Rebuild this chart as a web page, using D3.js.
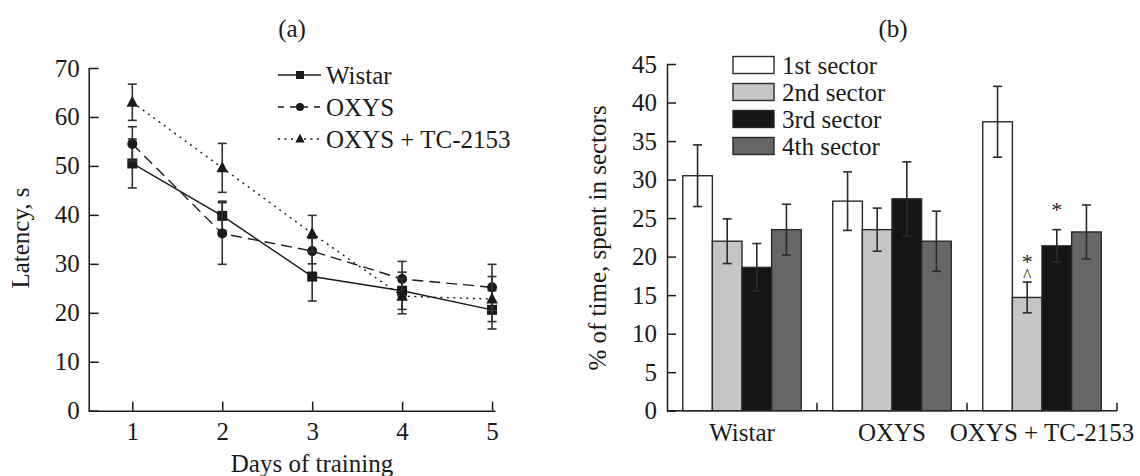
<!DOCTYPE html>
<html>
<head>
<meta charset="utf-8">
<script src="https://cdn.jsdelivr.net/npm/d3@7"></script>
<style>
  body { margin: 0; background: #fff; }
  svg text { font-family: "Liberation Serif", "Times New Roman", Times, "DejaVu Serif", "Noto Serif", serif; fill: #1a1a1a; }
</style>
</head>
<body>
<script>
// panel (a): latency by day
var days = [1, 2, 3, 4, 5];
var wistar = [50.5, 39.8, 27.4, 24.5, 20.6];
var wistarErr = [5, 3, 5, 3.8, 3.9];
var oxys = [54.5, 36.2, 32.6, 26.9, 25.2];
var oxysErr = [3.5, 6.3, 2.6, 3.6, 4.7];
var oxysTc = [63, 49.6, 36.2, 23.4, 22.8];
var oxysTcErr = [3.7, 5, 3.7, 3.6, 4.6];
var latencyTicks = [0, 10, 20, 30, 40, 50, 60, 70];

// panel (b): % of time in sectors
var groups = ["Wistar", "OXYS", "OXYS + TC-2153"];
var sectors = ["1st sector", "2nd sector", "3rd sector", "4th sector"];
var sector1 = [30.5, 27.2, 37.5];
var sector1Err = [4, 3.8, 4.6];
var sector2 = [22.0, 23.5, 14.7];
var sector2Err = [2.9, 2.8, 2.0];
var sector3 = [18.6, 27.5, 21.4];
var sector3Err = [3.1, 4.8, 2.1];
var sector4 = [23.5, 22.0, 23.2];
var sector4Err = [3.3, 3.9, 3.5];
var percentTicks = [0, 5, 10, 15, 20, 25, 30, 35, 40, 45];
// significance marks above error bars
var marks = [
  { group: 2, sector: 1, symbols: ["^", "*"] },
  { group: 2, sector: 2, symbols: ["*"] }
];

var ink = "#1a1a1a";
var fs = 25;
var serif = '"Liberation Serif", "Times New Roman", Times, "DejaVu Serif", serif';

var svg = d3.select("body").append("svg")
  .attr("width", 1140)
  .attr("height", 476);

// ---------- panel (a) ----------
var xA = d3.scaleLinear().domain([0.515, 5.033]).range([88.7, 495]);
var yA = d3.scaleLinear().domain([0, 70]).range([410.7, 68]);

var gA = svg.append("g");

gA.append("g")
  .attr("transform", "translate(" + xA.range()[0] + ",0)")
  .call(d3.axisLeft(yA).tickValues(latencyTicks).tickSizeInner(-10).tickSizeOuter(0).tickPadding(9))
  .call(styleAxis);

gA.append("g")
  .attr("transform", "translate(0," + yA(0) + ")")
  .call(d3.axisBottom(xA).tickValues(days).tickFormat(d3.format("d")).tickSizeInner(-9).tickSizeOuter(0).tickPadding(12))
  .call(styleAxis);

var seriesA = [
  { name: "Wistar", values: wistar, err: wistarErr, dash: null, marker: "square" },
  { name: "OXYS", values: oxys, err: oxysErr, dash: "11,6", marker: "circle" },
  { name: "OXYS + TC-2153", values: oxysTc, err: oxysTcErr, dash: "2,4.5", marker: "triangle" }
];

var line = d3.line()
  .x(function(d) { return xA(d.x); })
  .y(function(d) { return yA(d.y); });

seriesA.forEach(function(s) {
  var pts = days.map(function(d, i) { return { x: d, y: s.values[i], e: s.err[i] }; });

  var eb = gA.append("g");
  pts.forEach(function(p) {
    var cx = xA(p.x);
    eb.append("line").attr("x1", cx).attr("x2", cx)
      .attr("y1", yA(p.y - p.e)).attr("y2", yA(p.y + p.e));
    [p.y - p.e, p.y + p.e].forEach(function(v) {
      eb.append("line").attr("x1", cx - 4.5).attr("x2", cx + 4.5)
        .attr("y1", yA(v)).attr("y2", yA(v));
    });
  });
  eb.selectAll("line").attr("stroke", "#333").attr("stroke-width", 1.6);

  gA.append("path")
    .datum(pts)
    .attr("d", line)
    .attr("fill", "none")
    .attr("stroke", ink)
    .attr("stroke-width", 1.4)
    .attr("stroke-dasharray", s.dash);

  pts.forEach(function(p) {
    drawMarker(gA, s.marker, xA(p.x), yA(p.y), 1);
  });
});

// legend (a)
var legA = gA.append("g");
seriesA.forEach(function(s, i) {
  var y = 75 + i * 32;
  legA.append("line")
    .attr("x1", 278).attr("x2", 321).attr("y1", y).attr("y2", y)
    .attr("stroke", ink).attr("stroke-width", 1.4)
    .attr("stroke-dasharray", s.dash ? (i === 1 ? "6,6" : "2,4.5") : null);
  drawMarker(legA, s.marker, 300, y, 0.8);
  legA.append("text")
    .attr("x", 326).attr("y", y)
    .attr("dy", "0.34em")
    .attr("font-size", fs)
    .text(s.name);
});

gA.append("text")
  .attr("transform", "translate(20,238) rotate(-90)")
  .attr("text-anchor", "middle")
  .attr("dy", "0.34em")
  .attr("font-size", fs)
  .text("Latency, s");

gA.append("text")
  .attr("x", 312).attr("y", 472)
  .attr("text-anchor", "middle")
  .attr("font-size", fs)
  .text("Days of training");

gA.append("text")
  .attr("x", 292).attr("y", 28)
  .attr("text-anchor", "middle")
  .attr("dy", "0.34em")
  .attr("font-size", fs)
  .text("(a)");

// ---------- panel (b) ----------
var x0 = d3.scaleBand().domain(groups).range([667, 1117]).paddingInner(0).paddingOuter(0);
var x1 = d3.scaleBand().domain(sectors).range([15.75, x0.bandwidth() - 15.75]).padding(0);
var yB = d3.scaleLinear().domain([0, 45]).range([410.7, 64]);
var colors = d3.scaleOrdinal().domain(sectors).range(["#ffffff", "#c4c6c4", "#151515", "#666666"]);

var sectorVals = [sector1, sector2, sector3, sector4];
var sectorErrs = [sector1Err, sector2Err, sector3Err, sector4Err];

var gB = svg.append("g");

gB.append("g")
  .attr("transform", "translate(" + x0.range()[0] + ",0)")
  .call(d3.axisLeft(yB).tickValues(percentTicks).tickSizeInner(-9).tickSizeOuter(0).tickPadding(10))
  .call(styleAxis);

// x baseline with ticks at group boundaries
var baseY = yB(0);
gB.append("line")
  .attr("x1", x0.range()[0]).attr("x2", x0.range()[1])
  .attr("y1", baseY).attr("y2", baseY)
  .attr("stroke", ink).attr("stroke-width", 1.5);
groups.forEach(function(g) {
  var xe = x0(g) + x0.bandwidth();
  gB.append("line")
    .attr("x1", xe).attr("x2", xe)
    .attr("y1", baseY).attr("y2", baseY - 8)
    .attr("stroke", ink).attr("stroke-width", 1.5);
  gB.append("text")
    .attr("x", x0(g) + x0.bandwidth() / 2)
    .attr("y", 441)
    .attr("text-anchor", "middle")
    .attr("font-size", fs)
    .text(g);
});

var bars = [];
groups.forEach(function(g, gi) {
  sectors.forEach(function(s, si) {
    bars.push({ group: g, sector: s, value: sectorVals[si][gi], err: sectorErrs[si][gi] });
  });
});

gB.selectAll("rect.bar")
  .data(bars)
  .enter()
    .append("rect")
    .attr("class", "bar")
    .attr("x", function(d) { return x0(d.group) + x1(d.sector); })
    .attr("width", x1.bandwidth())
    .attr("y", function(d) { return yB(d.value); })
    .attr("height", function(d) { return baseY - yB(d.value); })
    .attr("fill", function(d) { return colors(d.sector); })
    .attr("stroke", "#2a2a2a")
    .attr("stroke-width", 1.4);

var ebB = gB.append("g");
bars.forEach(function(d) {
  var cx = x0(d.group) + x1(d.sector) + x1.bandwidth() / 2;
  ebB.append("line").attr("x1", cx).attr("x2", cx)
    .attr("y1", yB(d.value - d.err)).attr("y2", yB(d.value + d.err));
  [d.value - d.err, d.value + d.err].forEach(function(v) {
    ebB.append("line").attr("x1", cx - 4.5).attr("x2", cx + 4.5)
      .attr("y1", yB(v)).attr("y2", yB(v));
  });
});
ebB.selectAll("line").attr("stroke", "#2a2a2a").attr("stroke-width", 1.6);

marks.forEach(function(m) {
  var g = groups[m.group], s = sectors[m.sector];
  var top = yB(sectorVals[m.sector][m.group] + sectorErrs[m.sector][m.group]);
  var cx = x0(g) + x1(s) + x1.bandwidth() / 2;
  m.symbols.forEach(function(sym) {
    var isStar = sym === "*";
    var centre = isStar ? top - 25 : top - 10;
    gB.append("text")
      .attr("x", cx)
      .attr("y", centre + (isStar ? 12 : 10))
      .attr("text-anchor", "middle")
      .attr("font-size", isStar ? 22 : 18)
      .text(sym);
  });
});

// legend (b)
var legB = gB.append("g");
sectors.forEach(function(s, i) {
  var y = 65 + i * 27;
  legB.append("rect")
    .attr("x", 733).attr("y", y - 8.5)
    .attr("width", 41).attr("height", 17)
    .attr("fill", colors(s))
    .attr("stroke", "#2a2a2a")
    .attr("stroke-width", 1.4);
  legB.append("text")
    .attr("x", 782).attr("y", y)
    .attr("dy", "0.34em")
    .attr("font-size", fs)
    .text(s);
});

gB.append("text")
  .attr("transform", "translate(597,238) rotate(-90)")
  .attr("text-anchor", "middle")
  .attr("dy", "0.34em")
  .attr("font-size", fs)
  .text("% of time, spent in sectors");

gB.append("text")
  .attr("x", 893).attr("y", 28)
  .attr("text-anchor", "middle")
  .attr("dy", "0.34em")
  .attr("font-size", fs)
  .text("(b)");

// ---------- helpers ----------
function styleAxis(sel) {
  sel.attr("font-family", serif);
  sel.select(".domain").attr("stroke", ink).attr("stroke-width", 1.5);
  sel.selectAll(".tick line").attr("stroke", ink).attr("stroke-width", 1.5);
  sel.selectAll(".tick text")
    .attr("font-size", fs)
    .attr("fill", ink);
}

function drawMarker(g, type, x, y, k) {
  if (type === "square") {
    g.append("rect").attr("x", x - 5 * k).attr("y", y - 5 * k)
      .attr("width", 10 * k).attr("height", 10 * k).attr("fill", ink);
  } else if (type === "circle") {
    g.append("circle").attr("cx", x).attr("cy", y).attr("r", 5 * k).attr("fill", ink);
  } else {
    g.append("path")
      .attr("d", "M" + x + "," + (y - 6.5 * k) + "L" + (x + 5.8 * k) + "," + (y + 4.5 * k) + "L" + (x - 5.8 * k) + "," + (y + 4.5 * k) + "Z")
      .attr("fill", ink);
  }
}
</script>
</body>
</html>
